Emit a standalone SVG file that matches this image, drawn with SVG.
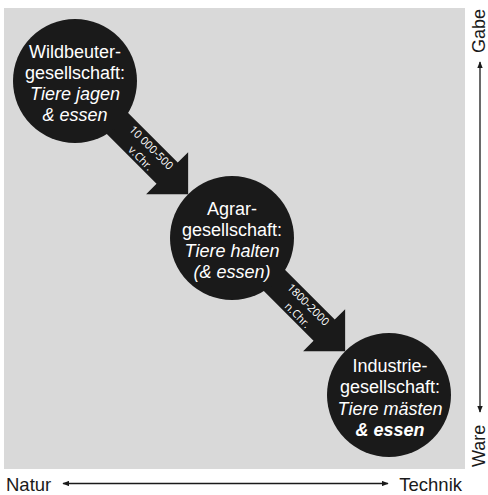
<svg xmlns="http://www.w3.org/2000/svg" width="488" height="495" viewBox="0 0 488 495">
  <style>
    .node { fill: #1a1a1a; }
    .t { font-family: "Liberation Sans", Arial, sans-serif; font-size: 18px; fill: #ffffff; text-anchor: middle; }
    .i { font-style: italic; }
    .bi { font-style: italic; font-weight: bold; }
    .lbl { font-family: "Open Sans", "Liberation Sans", sans-serif; font-size: 11px; fill: #ffffff; text-anchor: middle; }
    .ax { font-family: "Liberation Sans", Arial, sans-serif; font-size: 18.5px; fill: #1a1a1a; }
    .axv { font-family: "Liberation Sans", Arial, sans-serif; font-size: 18px; fill: #1a1a1a; }
    .axl { stroke: #1a1a1a; stroke-width: 1.3; fill: none; }
  </style>
  <defs>
    <marker id="ah" viewBox="0 0 10 8" refX="9" refY="4" markerWidth="7" markerHeight="5.6" markerUnits="userSpaceOnUse" orient="auto-start-reverse">
      <path d="M0,0 L10,4 L0,8 Z" fill="#1a1a1a"/>
    </marker>
  </defs>

  <rect x="4" y="8" width="461" height="461" fill="#d9d9d9"/>

  <g id="connectors">
    <g id="arrow1" transform="translate(75,81) rotate(45)">
      <polygon class="node" points="0,-15 130.3,-15 130.3,-29.7 160,0 130.3,29.7 130.3,15 0,15"/>
      <text class="lbl" x="101" y="-3">10 000-500</text>
      <text class="lbl" x="101" y="12">v.Chr.</text>
    </g>
    <g id="arrow2" transform="translate(232,238) rotate(45)">
      <polygon class="node" points="0,-15 130.3,-15 130.3,-29.7 160,0 130.3,29.7 130.3,15 0,15"/>
      <text class="lbl" x="101" y="-3">1800-2000</text>
      <text class="lbl" x="101" y="12">n.Chr.</text>
    </g>
    <line id="axis-x" class="axl" x1="63" y1="483.5" x2="388" y2="483.5" marker-start="url(#ah)" marker-end="url(#ah)"/>
    <line id="axis-y" class="axl" x1="480" y1="62" x2="480" y2="412" marker-start="url(#ah)" marker-end="url(#ah)"/>
  </g>

  <g id="node-wildbeuter">
    <circle class="node" cx="75" cy="81" r="62"/>
    <text class="t" x="75" y="57.5">Wildbeuter-</text>
    <text class="t" x="75" y="78.5">gesellschaft:</text>
    <text class="t i" x="75" y="99.5">Tiere jagen</text>
    <text class="t i" x="75" y="120.5">&amp; essen</text>
  </g>

  <g id="node-agrar">
    <circle class="node" cx="232" cy="238" r="62"/>
    <text class="t" x="232" y="215">Agrar-</text>
    <text class="t" x="232" y="236">gesellschaft:</text>
    <text class="t i" x="232" y="257">Tiere halten</text>
    <text class="t i" x="232" y="278">(&amp; essen)</text>
  </g>

  <g id="node-industrie">
    <circle class="node" cx="389" cy="395" r="62"/>
    <text class="t" x="390" y="372">Industrie-</text>
    <text class="t" x="390" y="393">gesellschaft:</text>
    <text class="t i" x="390" y="414.5">Tiere mästen</text>
    <text class="t bi" x="390" y="435.5">&amp; essen</text>
  </g>

  <g id="axis-labels">
    <text class="ax" x="6" y="491">Natur</text>
    <text class="ax" x="462" y="491" text-anchor="end">Technik</text>
    <text class="axv" transform="translate(485,9) rotate(-90)" text-anchor="end">Gabe</text>
    <text class="axv" transform="translate(485,467) rotate(-90)">Ware</text>
  </g>
</svg>
